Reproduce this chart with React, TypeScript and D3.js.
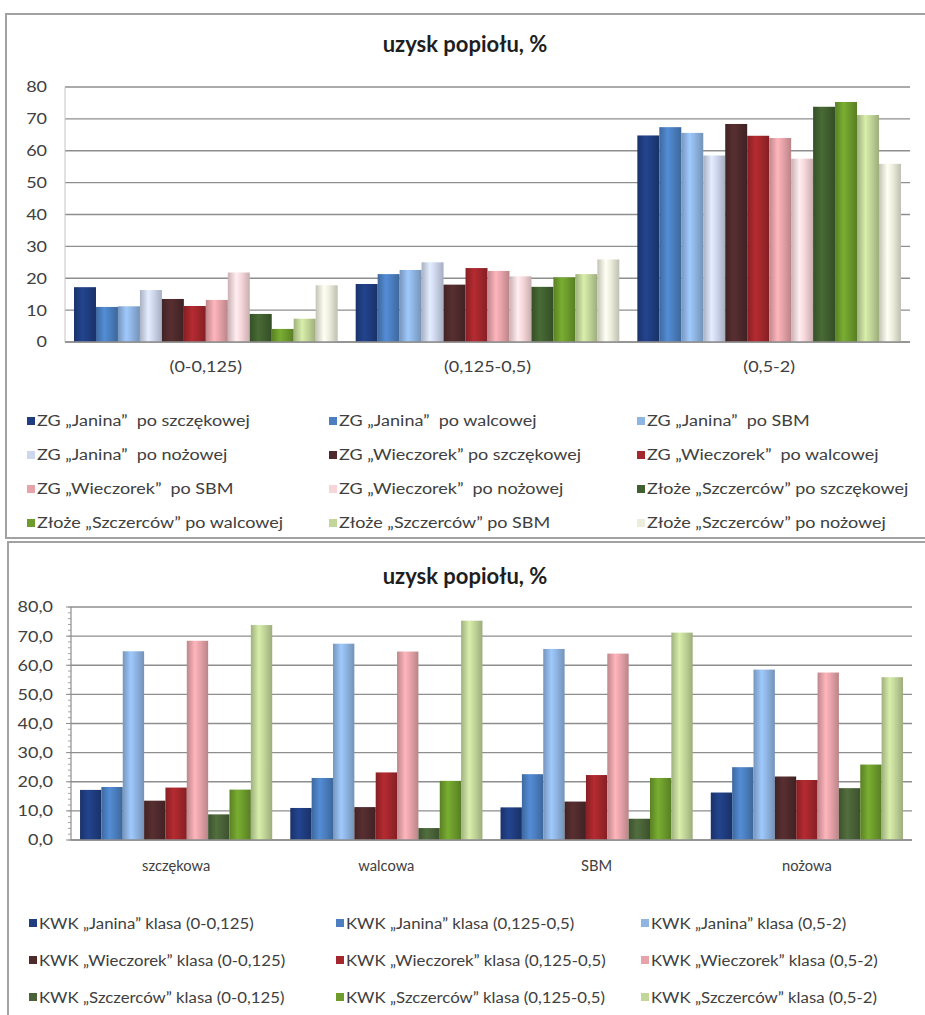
import React from 'react';
import * as d3 from 'd3';

// Size classes (mm) and mill types
const classes = ['(0-0,125)', '(0,125-0,5)', '(0,5-2)'];
const mills = ['szczękowa', 'walcowa', 'SBM', 'nożowa'];

// Ash recovery [%]; rows = mills (szczękowa, walcowa, SBM, nożowa), cols = size classes
const janinaValues = [
  [17.2, 18.2, 64.8],
  [11.0, 21.3, 67.4],
  [11.2, 22.6, 65.6],
  [16.3, 25.0, 58.5],
];
const wieczorekValues = [
  [13.5, 18.0, 68.4],
  [11.3, 23.2, 64.7],
  [13.2, 22.3, 64.0],
  [21.8, 20.6, 57.5],
];
const szczercowValues = [
  [8.8, 17.3, 73.8],
  [4.1, 20.3, 75.3],
  [7.3, 21.3, 71.2],
  [17.8, 25.9, 55.9],
];
const siteValues = [janinaValues, wieczorekValues, szczercowValues];

const yTicks = [0, 10, 20, 30, 40, 50, 60, 70, 80];

// Upper chart: one series per deposit + mill
const topLabels = [
  'ZG „Janina”  po szczękowej',
  'ZG „Janina”  po walcowej',
  'ZG „Janina”  po SBM',
  'ZG „Janina”  po nożowej',
  'ZG „Wieczorek” po szczękowej',
  'ZG „Wieczorek”  po walcowej',
  'ZG „Wieczorek”  po SBM',
  'ZG „Wieczorek”  po nożowej',
  'Złoże „Szczerców” po szczękowej',
  'Złoże „Szczerców” po walcowej',
  'Złoże „Szczerców” po SBM',
  'Złoże „Szczerców” po nożowej',
];
const topColors = [
  '#1f3d80', '#4b7fc0', '#8fb5e3', '#cdd6ec',
  '#4f2a2c', '#a3272c', '#e6a3a9', '#f6d6d9',
  '#41602f', '#6d9c2c', '#c2d699', '#ededdc',
];

// Lower chart: one series per deposit + size class
const bottomLabels = [
  'KWK „Janina” klasa (0-0,125)',
  'KWK „Janina” klasa (0,125-0,5)',
  'KWK „Janina” klasa (0,5-2)',
  'KWK „Wieczorek” klasa (0-0,125)',
  'KWK „Wieczorek” klasa (0,125-0,5)',
  'KWK „Wieczorek” klasa (0,5-2)',
  'KWK „Szczerców” klasa (0-0,125)',
  'KWK „Szczerców” klasa (0,125-0,5)',
  'KWK „Szczerców” klasa (0,5-2)',
];
const bottomColors = [
  '#1f3d80', '#4b7fc0', '#8fb5e3',
  '#4f2a2c', '#a3272c', '#e6a3a9',
  '#4a6338', '#6d9c2c', '#c2d699',
];

const FONT = 'Lato, "Open Sans", sans-serif';
const TEXT = '#404040';
const GRID = '#8e8e8e';

type Anchor = 'start' | 'middle' | 'end';

// Horizontally widened text label
function Label({ x, y, anchor = 'start', size = 15, stretch = 1.2, children }: { x: number; y: number; anchor?: Anchor; size?: number; stretch?: number; children: React.ReactNode }) {
  return (
    <text
      transform={`translate(${x},${y}) scale(${stretch},1)`}
      textAnchor={anchor}
      dominantBaseline="central"
      fontFamily={FONT}
      fontSize={size}
      fill={TEXT}
      style={{ whiteSpace: 'pre' }}
    >
      {children}
    </text>
  );
}

function Title({ y }: { y: number }) {
  return (
    <text x={465} y={y} textAnchor="middle" fontFamily={FONT} fontWeight={700} fontSize={22} fill="#1e1e1e">
      uzysk popiołu, %
    </text>
  );
}

function gradId(prefix: string, i: number) {
  return `${prefix}-g${i}`;
}

function Gradients({ prefix, colors }: { prefix: string; colors: string[] }) {
  return (
    <>
      {colors.map((c, i) => {
        const base = d3.color(c)!;
        return (
          <linearGradient key={i} id={gradId(prefix, i)} x1="0" x2="1" y1="0" y2="0">
            <stop offset="0" stopColor={base.darker(0.55).formatHex()} />
            <stop offset="0.38" stopColor={base.brighter(0.3).formatHex()} />
            <stop offset="0.62" stopColor={base.formatHex()} />
            <stop offset="1" stopColor={base.darker(0.6).formatHex()} />
          </linearGradient>
        );
      })}
    </>
  );
}

function Legend({ labels, colors, cols, rows, stretch }: { labels: string[]; colors: string[]; cols: number[]; rows: number[]; stretch: number }) {
  return (
    <g>
      {labels.map((lab, i) => {
        const x = cols[i % 3];
        const y = rows[Math.floor(i / 3)];
        return (
          <g key={i}>
            <rect x={x} y={y - 4} width={8} height={8} fill={colors[i]} />
            <Label x={x + 10} y={y} stretch={stretch}>{lab}</Label>
          </g>
        );
      })}
    </g>
  );
}

function TopChart() {
  const left = 65, right = 910, top = 87, bottom = 342;
  const x = d3.scaleBand<string>().domain(classes).range([left, right]).paddingInner(0.064).paddingOuter(0.032);
  const inner = d3.scaleBand<number>().domain(d3.range(topLabels.length)).range([0, x.bandwidth()]);
  const y = d3.scaleLinear().domain([0, 80]).range([bottom, top]);

  return (
    <g>
      <rect x={6} y={14} width={940} height={524} fill="#fff" stroke="#a2a2a2" strokeWidth={2} />
      <Title y={52} />
      {yTicks.map((t) => (
        <g key={t}>
          <line x1={left} x2={right} y1={y(t)} y2={y(t)} stroke={GRID} strokeWidth={1.4} />
          <Label x={47} y={y(t)} anchor="end">{t}</Label>
        </g>
      ))}
      <line x1={left} x2={left} y1={top} y2={bottom} stroke="#c4c4c4" strokeWidth={1} />
      {classes.map((cls, ci) => (
        <g key={cls} transform={`translate(${x(cls)},0)`}>
          {topLabels.map((_, si) => {
            const site = Math.floor(si / 4);
            const mill = si % 4;
            const v = siteValues[site][mill][ci];
            return (
              <rect
                key={si}
                x={inner(si)}
                y={y(v)}
                width={inner.bandwidth()}
                height={y(0) - y(v)}
                fill={`url(#${gradId('top', si)})`}
              />
            );
          })}
        </g>
      ))}
      <line x1={left} x2={right} y1={y(0)} y2={y(0)} stroke={GRID} strokeWidth={1.4} />
      {classes.map((cls) => (
        <Label key={cls} x={x(cls)! + x.bandwidth() / 2} y={367} anchor="middle">{cls}</Label>
      ))}
      <Legend labels={topLabels} colors={topColors} cols={[27, 329, 637]} rows={[421, 455, 489, 523]} stretch={1.2} />
    </g>
  );
}

function BottomChart() {
  const left = 71, right = 912, top = 607, bottom = 840;
  const x = d3.scaleBand<string>().domain(mills).range([left, right]).paddingInner(0.086).paddingOuter(0.043);
  const inner = d3.scaleBand<number>().domain(d3.range(bottomLabels.length)).range([0, x.bandwidth()]);
  const y = d3.scaleLinear().domain([0, 80]).range([bottom, top]);
  const minor = d3.range(0, 81, 2);
  const fmt = (v: number) => v.toFixed(1).replace('.', ',');

  return (
    <g>
      <rect x={8} y={542} width={940} height={500} fill="#fff" stroke="#a2a2a2" strokeWidth={2} />
      <Title y={584} />
      {yTicks.map((t) => (
        <g key={t}>
          <line x1={left} x2={right} y1={y(t)} y2={y(t)} stroke={GRID} strokeWidth={1.4} />
          <line x1={left - 5} x2={left} y1={y(t)} y2={y(t)} stroke={GRID} strokeWidth={1} />
          <Label x={53} y={y(t)} anchor="end">{fmt(t)}</Label>
        </g>
      ))}
      {minor.map((t) => (
        <line key={t} x1={left - 3} x2={left} y1={y(t)} y2={y(t)} stroke={GRID} strokeWidth={0.8} />
      ))}
      <line x1={left} x2={left} y1={top} y2={bottom} stroke={GRID} strokeWidth={1.2} />
      {mills.map((mill, mi) => (
        <g key={mill} transform={`translate(${x(mill)},0)`}>
          {bottomLabels.map((_, si) => {
            const site = Math.floor(si / 3);
            const cls = si % 3;
            const v = siteValues[site][mi][cls];
            return (
              <rect
                key={si}
                x={inner(si)}
                y={y(v)}
                width={inner.bandwidth()}
                height={y(0) - y(v)}
                fill={`url(#${gradId('bot', si)})`}
              />
            );
          })}
        </g>
      ))}
      <line x1={left} x2={right} y1={y(0)} y2={y(0)} stroke={GRID} strokeWidth={1.4} />
      {mills.map((mill) => (
        <Label key={mill} x={x(mill)! + x.bandwidth() / 2} y={865} anchor="middle" stretch={0.98}>{mill}</Label>
      ))}
      <Legend labels={bottomLabels} colors={bottomColors} cols={[29, 336, 641]} rows={[923, 960, 997]} stretch={1.12} />
    </g>
  );
}

export default function App() {
  return (
    <div style={{ position: 'absolute', left: 0, top: 0 }}>
      <svg width={925} height={1015} style={{ display: 'block', background: '#fff' }}>
        <defs>
          <Gradients prefix="top" colors={topColors} />
          <Gradients prefix="bot" colors={bottomColors} />
        </defs>
        <TopChart />
        <BottomChart />
      </svg>
    </div>
  );
}
